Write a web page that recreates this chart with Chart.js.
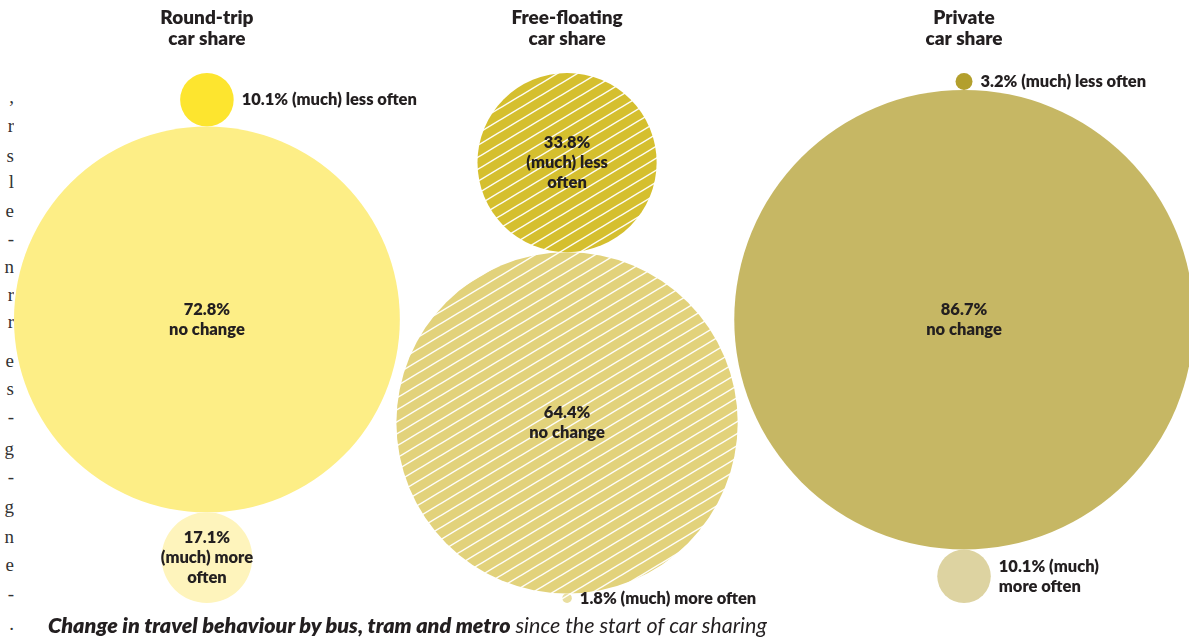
<!DOCTYPE html>
<html>
<head>
<meta charset="utf-8">
<script src="https://cdn.jsdelivr.net/npm/chart.js@4.4.0/dist/chart.umd.min.js"></script>
<style>
  body { margin: 0; background: #fff; width: 1189px; height: 637px; overflow: hidden; position: relative; font-family: Lato, sans-serif; color: #231f20; }
  #wrap { position: absolute; left: 0; top: 0; width: 1189px; height: 637px; }
  #caption { position: absolute; left: 48px; top: 612px; font-size: 21.5px; font-style: italic; white-space: nowrap; line-height: 26px; }
  #caption b { font-weight: 800; }
  #edge { position: absolute; left: 0; top: 0; width: 14px; height: 637px; overflow: hidden; font-family: "Liberation Serif", serif; font-size: 19px; line-height: 22px; color: #333; }
  #edge span { position: absolute; right: 0; }
</style>
</head>
<body>
<div id="edge"></div>
<div id="wrap"><canvas id="bubbles" width="1189" height="637"></canvas></div>
<div id="caption"><b>Change in travel behaviour by bus, tram and metro</b> since the start of car sharing</div>
<script>
// values (percent of respondents)
const columns = ['Round-trip\ncar share', 'Free-floating\ncar share', 'Private\ncar share'];
const lessOften = [10.1, 33.8, 3.2];
const noChange = [72.8, 64.4, 86.7];
const moreOften = [17.1, 1.8, 10.1];

const lessLabels = ['10.1% (much) less often', '33.8%\n(much) less\noften', '3.2% (much) less often'];
const moreLabels = ['17.1%\n(much) more\noften', '1.8% (much) more often', '10.1% (much)\nmore often'];

// colours per column: less, no change, more
const colours = [
    ['#fde52f', '#fdee86', '#fef4bc'],
    ['#d5bf2e', '#e2d27b', '#e9de9f'],
    ['#b39f2d', '#c6b764', '#ddd3a1']
];
const hatched = [false, true, false];

// cut-off text from the page's paragraph on the left edge
const edgeChars = [',', 'r', 's', 'l', 'e', '-', 'n', 'r', 'r', 'e', 's', '-', 'g', '-', 'g', 'n', 'e', '-', '.'];
const edgeY = [98, 127, 157, 183, 212, 240, 268, 296, 323, 362, 390, 418, 450, 478, 508, 538, 566, 595, 625];

const edge = document.getElementById('edge');
edgeChars.forEach(function (ch, i) {
    const s = document.createElement('span');
    s.textContent = ch;
    s.style.top = (edgeY[i] - 12) + 'px';
    edge.appendChild(s);
});

const K = 2.65;       // pixels per percentage point of radius
const LEFT = 14, TOP = 73, OVERLAP = 1.3;

function hatch(color) {
    const c = document.createElement('canvas');
    const w = 20, h = 12;
    c.width = w; c.height = h;
    const g = c.getContext('2d');
    g.fillStyle = color;
    g.fillRect(0, 0, w, h);
    g.strokeStyle = 'rgba(255,255,255,0.95)';
    g.lineWidth = 1.5;
    [-w, 0, w].forEach(function (dx) {
        g.beginPath();
        g.moveTo(dx - w, 2 * h);
        g.lineTo(dx + 2 * w, -h);
        g.stroke();
    });
    return g.createPattern(c, 'repeat');
}

// stack circles from the top, columns side by side
let cx = 0;
const datasets = columns.map(function (name, i) {
    const big = Math.max(lessOften[i], noChange[i], moreOften[i]);
    if (i === 0) cx = big; else cx += Math.max(lessOften[i - 1], noChange[i - 1], moreOften[i - 1]) + big - OVERLAP;
    const yLess = lessOften[i];
    const yMid = 2 * lessOften[i] + noChange[i];
    const yMore = 2 * lessOften[i] + 2 * noChange[i] + moreOften[i];
    return {
        label: name,
        data: [
            { x: cx, y: yLess, r: lessOften[i] * K },
            { x: cx, y: yMid, r: noChange[i] * K },
            { x: cx, y: yMore, r: moreOften[i] * K }
        ],
        texts: [lessLabels[i], noChange[i] + '%\nno change', moreLabels[i]],
        backgroundColor: colours[i].map(function (c) { return hatched[i] ? hatch(c) : c; }),
        borderWidth: 0,
        hoverBorderWidth: 0,
        hoverRadius: 0
    };
});

const labelPlugin = {
    id: 'bubbleLabels',
    afterDatasetsDraw(chart) {
        const ctx = chart.ctx;
        ctx.save();
        ctx.fillStyle = '#231f20';
        ctx.textBaseline = 'middle';
        chart.data.datasets.forEach(function (ds, i) {
            const meta = chart.getDatasetMeta(i);
            meta.data.forEach(function (pt, j) {
                const r = ds.data[j].r;
                const lines = ds.texts[j].split('\n');
                const inside = r > 40;
                ctx.font = '800 16.5px Lato';
                ctx.textAlign = inside ? 'center' : 'left';
                const x = inside ? pt.x : pt.x + r + 8;
                const y0 = pt.y - (lines.length - 1) * 20 / 2;
                lines.forEach(function (l, n) { ctx.fillText(l, x, y0 + n * 20); });
            });
            // column title
            const tx = meta.data[0].x;
            ctx.font = '800 19px Lato';
            ctx.textAlign = 'center';
            ds.label.split('\n').forEach(function (l, n) { ctx.fillText(l, tx, 18 + n * 21); });
        });
        ctx.restore();
    }
};

new Chart(document.getElementById('bubbles'), {
    type: 'bubble',
    data: { datasets: datasets },
    options: {
        responsive: false,
        animation: false,
        events: [],
        clip: false,
        layout: { padding: 0, autoPadding: false },
        scales: {
            x: { type: 'linear', display: false, min: -LEFT / K, max: (1189 - LEFT) / K },
            y: { type: 'linear', display: false, reverse: true, min: -TOP / K, max: (637 - TOP) / K }
        },
        plugins: {
            legend: { display: false },
            tooltip: { enabled: false }
        }
    },
    plugins: [labelPlugin]
});
</script>
</body>
</html>
